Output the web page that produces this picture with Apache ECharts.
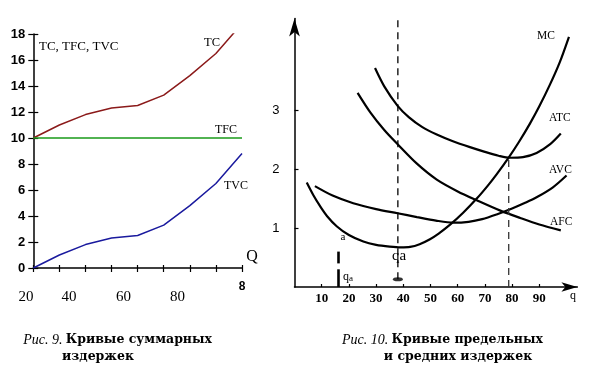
<!DOCTYPE html>
<html><head><meta charset="utf-8">
<script src="https://cdn.jsdelivr.net/npm/echarts@6/dist/echarts.min.js"></script>
<style>html,body{margin:0;padding:0;background:#fff}#c{width:592px;height:376px}</style>
</head><body><div id="c"></div>
<script>
// ---- Left chart (Рис. 9) ----
const qIndex = [0, 1, 2, 3, 4, 5, 6, 7, 8];
const tcValues = [10, 11, 11.8, 12.3, 12.5, 13.3, 14.8, 16.5, 18.8];
const tfcValues = [10, 10, 10, 10, 10, 10, 10, 10, 10];
const tvcValues = [0, 1, 1.8, 2.3, 2.5, 3.3, 4.8, 6.5, 8.8];
const leftXTickLabels = ['20', '40', '60', '80'];
const leftXEndLabel = '8';

// ---- Right chart (Рис. 10) ----
const mcQ = [4.5, 7, 9.4, 12, 15.5, 20, 25.3, 30, 35, 39, 42.5, 46, 49.8, 53, 57.2, 62, 67, 71, 74.3, 78.6, 82.5, 86.6, 90, 93.9, 97.5, 100.9];
const mcValues = [1.77, 1.55, 1.37, 1.2, 1.03, 0.88, 0.77, 0.715, 0.685, 0.672, 0.68, 0.726, 0.81, 0.905, 1.056, 1.258, 1.498, 1.714, 1.909, 2.184, 2.457, 2.773, 3.062, 3.429, 3.807, 4.24];
const atcQ = [29.6, 33, 37.9, 42, 47, 52.3, 58, 64.5, 70, 75, 79.2, 84, 89, 94, 97.9];
const atcValues = [3.71, 3.4, 3.07, 2.88, 2.71, 2.585, 2.475, 2.37, 2.29, 2.225, 2.19, 2.2, 2.27, 2.42, 2.6];
const afcQ = [23.2, 28, 33, 37.9, 45, 52.3, 60, 67, 75.9, 83, 90, 97.9];
const afcValues = [3.29, 2.95, 2.66, 2.42, 2.09, 1.82, 1.62, 1.47, 1.29, 1.17, 1.06, 0.96];
const avcQ = [7.5, 14, 21.6, 30, 37.9, 45, 52, 58.4, 64, 69, 74.3, 80, 85, 89, 95, 100];
const avcValues = [1.71, 1.55, 1.42, 1.32, 1.25, 1.185, 1.125, 1.09, 1.105, 1.15, 1.23, 1.33, 1.43, 1.52, 1.69, 1.89];
const rightXTicks = [10, 20, 30, 40, 50, 60, 70, 80, 90];
const rightYTicks = [1, 2, 3];
const qaQ = 38, qaTop = 4.53, qaBottom = 0.13;
const atcMinQ = 78.75, atcMinValue = 2.19;
const aMarkQ = 15.9;
const aMarkSegments = [[0.6, 0.4], [0.3, 0]];

const zip = (xs, ys) => xs.map((x, i) => [x, ys[i]]);
const SERIF = '"Liberation Serif", "DejaVu Serif", serif';
const CAPSERIF = '"DejaVu Serif", "Liberation Serif", serif';
const SANS = '"Liberation Sans", Arial, sans-serif';

const chart = echarts.init(document.getElementById('c'), null, {renderer: 'canvas'});

const option = {
  backgroundColor: '#fff',
  animation: false,
  grid: [
    {left: 33.3, top: 34, width: 208.7, height: 234},
    {left: 294.5, top: 18.5, width: 282.9, height: 268.5}
  ],
  xAxis: [
    {gridIndex: 0, type: 'value', min: 0, max: 8, interval: 1, position: 'bottom',
      axisLine: {show: true, onZero: false, lineStyle: {color: '#000', width: 1.5}},
      axisTick: {show: true, length: 4, lineStyle: {color: '#000', width: 1.2}},
      axisLabel: {show: false}, splitLine: {show: false}},
    {gridIndex: 0, type: 'value', min: 0, max: 8, interval: 1, position: 'bottom', offset: 0,
      axisLine: {show: false},
      axisTick: {show: true, inside: true, length: 3, lineStyle: {color: '#000', width: 1.2}},
      axisLabel: {show: false}, splitLine: {show: false}},
    {gridIndex: 1, type: 'value', min: 0, max: 104,
      axisLine: {show: true, onZero: false, symbol: ['none', 'arrow'], symbolSize: [7, 16],
        lineStyle: {color: '#000', width: 1.5}},
      axisTick: {show: true, length: -3, customValues: rightXTicks,
        lineStyle: {color: '#000', width: 1.2}},
      axisLabel: {show: true, customValues: rightXTicks, margin: 5,
        fontFamily: SERIF, fontWeight: 'bold', fontSize: 13, color: '#000'},
      splitLine: {show: false}}
  ],
  yAxis: [
    {gridIndex: 0, type: 'value', min: 0, max: 18, interval: 2, position: 'left',
      axisLine: {show: true, onZero: false, lineStyle: {color: '#000', width: 1.5}},
      axisTick: {show: true, length: 5, lineStyle: {color: '#000', width: 1.2}},
      axisLabel: {show: true, margin: 8, fontFamily: SANS, fontWeight: 'bold', fontSize: 13, color: '#000'},
      splitLine: {show: false}},
    {gridIndex: 0, type: 'value', min: 0, max: 18, interval: 2, position: 'left', offset: 0,
      axisLine: {show: false},
      axisTick: {show: true, inside: true, length: 5, lineStyle: {color: '#000', width: 1.2}},
      axisLabel: {show: false}, splitLine: {show: false}},
    {gridIndex: 1, type: 'value', min: 0, max: 4.55,
      axisLine: {show: true, onZero: false, symbol: ['none', 'arrow'], symbolSize: [8, 18],
        lineStyle: {color: '#000', width: 1.5}},
      axisTick: {show: true, length: -4, customValues: rightYTicks,
        lineStyle: {color: '#000', width: 1.2}},
      axisLabel: {show: true, customValues: rightYTicks, margin: 15,
        fontFamily: SANS, fontSize: 13, color: '#000'},
      splitLine: {show: false}}
  ],
  series: [
    {name: 'TC', type: 'line', xAxisIndex: 0, yAxisIndex: 0, data: zip(qIndex, tcValues),
      showSymbol: false, clip: true, lineStyle: {color: '#8b1a1a', width: 1.5}},
    {name: 'TFC', type: 'line', xAxisIndex: 0, yAxisIndex: 0, data: zip(qIndex, tfcValues),
      showSymbol: false, lineStyle: {color: '#1a9a1a', width: 1.5}},
    {name: 'TVC', type: 'line', xAxisIndex: 0, yAxisIndex: 0, data: zip(qIndex, tvcValues),
      showSymbol: false, lineStyle: {color: '#1a1a9e', width: 1.5}},

    {name: 'MC', type: 'line', xAxisIndex: 2, yAxisIndex: 2, data: zip(mcQ, mcValues),
      smooth: 0.3, showSymbol: false, lineStyle: {color: '#000', width: 2.2}},
    {name: 'ATC', type: 'line', xAxisIndex: 2, yAxisIndex: 2, data: zip(atcQ, atcValues),
      smooth: 0.3, showSymbol: false, lineStyle: {color: '#000', width: 2.2}},
    {name: 'AFC', type: 'line', xAxisIndex: 2, yAxisIndex: 2, data: zip(afcQ, afcValues),
      smooth: 0.3, showSymbol: false, lineStyle: {color: '#000', width: 2.2}},
    {name: 'AVC', type: 'line', xAxisIndex: 2, yAxisIndex: 2, data: zip(avcQ, avcValues),
      smooth: 0.3, showSymbol: false, lineStyle: {color: '#000', width: 2.2}},
    {name: 'qaLine', type: 'line', xAxisIndex: 2, yAxisIndex: 2,
      data: [[qaQ, qaBottom], [qaQ, qaTop]], showSymbol: false,
      lineStyle: {color: '#000', width: 1.3, type: [7, 5]}},
    {name: 'atcMinLine', type: 'line', xAxisIndex: 2, yAxisIndex: 2,
      data: [[atcMinQ, 0], [atcMinQ, atcMinValue]], showSymbol: false,
      lineStyle: {color: '#333', width: 1.3, type: [7, 5]}},
    {name: 'qaDot', type: 'scatter', xAxisIndex: 2, yAxisIndex: 2,
      data: [[qaQ, qaBottom]], symbol: 'circle', symbolSize: [10, 4], itemStyle: {color: '#000'}},
    {name: 'aMark', type: 'line', xAxisIndex: 2, yAxisIndex: 2, data: [],
      markLine: {silent: true, symbol: ['none', 'none'], label: {show: false},
        lineStyle: {color: '#000', width: 2.6, type: 'solid'},
        data: aMarkSegments.map(s => [{coord: [aMarkQ, s[0]]}, {coord: [aMarkQ, s[1]]}])}}
  ],
  graphic: []
};

const txt = (text, x, y, font, align) => ({type: 'text', silent: true,
  style: {text, x, y, font, fill: '#000', textAlign: align || 'left', textVerticalAlign: 'middle'}});

const g = [];
// left chart annotations
g.push(txt('TC, TFC, TVC', 39, 47, '13px ' + SERIF));
g.push(txt('TC', 204, 43, '12.5px ' + SERIF));
g.push(txt('TFC', 215, 130, '12px ' + SERIF));
g.push(txt('TVC', 224, 186, '12px ' + SERIF));
g.push(txt('Q', 252, 257, '16px ' + SERIF, 'center'));
const leftLabelX = [26, 69, 123.5, 177.5];
leftXTickLabels.forEach((t, i) => g.push(txt(t, leftLabelX[i], 297, '15px ' + SERIF, 'center')));
g.push(txt(leftXEndLabel, 242, 287, 'bold 12px ' + SANS, 'center'));
// right chart annotations
g.push(txt('MC', 537, 36, '11.5px ' + SERIF));
g.push(txt('ATC', 549, 118, '11.5px ' + SERIF));
g.push(txt('AVC', 549, 170, '11.5px ' + SERIF));
g.push(txt('AFC', 550, 222, '11.5px ' + SERIF));
g.push(txt('a', 343, 237, '11px ' + SERIF, 'center'));
g.push(txt('qa', 399, 256, '15px ' + SERIF, 'center'));
g.push({type: 'text', silent: true, style: {text: '{q|q}{s|a}', x: 343, y: 277, textVerticalAlign: 'middle',
  rich: {q: {font: '12px ' + SERIF, fill: '#000'}, s: {font: '9px ' + SERIF, fill: '#000', padding: [3, 0, 0, 0]}}}});
g.push(txt('q', 573, 296, '12px ' + SERIF, 'center'));
// captions
const capRich = {i: {font: 'italic 14px ' + SERIF, fill: '#000'}, b: {font: 'bold 12.5px ' + CAPSERIF, fill: '#000'}};
g.push({type: 'text', silent: true, style: {x: 212, y: 340, textAlign: 'right', textVerticalAlign: 'middle',
  text: '{i|Рис. 9.} {b|Кривые суммарных}', rich: capRich}});
g.push(txt('издержек', 98, 357, 'bold 12.5px ' + CAPSERIF, 'center'));
g.push({type: 'text', silent: true, style: {x: 543, y: 340, textAlign: 'right', textVerticalAlign: 'middle',
  text: '{i|Рис. 10.} {b|Кривые предельных}', rich: capRich}});
g.push(txt('и средних издержек', 458, 357, 'bold 12.5px ' + CAPSERIF, 'center'));
option.graphic = g;

chart.setOption(option);
</script></body></html>
